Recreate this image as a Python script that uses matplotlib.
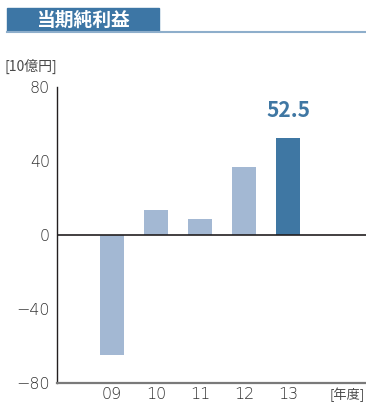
import matplotlib
matplotlib.use('Agg')
import matplotlib.pyplot as plt
from matplotlib.patches import Rectangle
from matplotlib.lines import Line2D

plt.rcParams['font.family'] = ['Noto Sans CJK JP', 'DejaVu Sans']

# data
years = ['09', '10', '11', '12', '13']
net_income = [-65.0, 13.5, 8.7, 36.8, 52.5]
bar_colors = ['#a3b8d3', '#a3b8d3', '#a3b8d3', '#a3b8d3', '#3f77a3']
yticks = [-80, -40, 0, 40, 80]
ytick_labels = ['−80', '−40', '0', '40', '80']

W, H = 366, 405
fig = plt.figure(figsize=(W / 100, H / 100), dpi=100)

# title bar
fig.patches.append(Rectangle((7 / W, 1 - 31 / H), 152 / W, 23 / H,
                             transform=fig.transFigure, color='#3d76a5', zorder=1))
fig.lines.append(Line2D([7 / W, 1], [1 - 31.5 / H, 1 - 31.5 / H],
                        transform=fig.transFigure, color='#8eaecb', lw=1.5))
fig.text(83 / W, 1 - 20 / H, '当期純利益', color='white', fontsize=13.5,
         fontweight='bold', ha='center', va='center')

ax = fig.add_axes([57 / W, 1 - 383 / H, 1 - 57 / W, (383 - 87) / H])
x = list(range(len(years)))
ax.bar(x, net_income, width=0.545, color=bar_colors, zorder=2)
ax.axhline(0, color='#231f20', lw=1.2, zorder=3)

ax.set_ylim(-80, 80)
ax.set_xlim(-1.25, 5.77)
ax.set_yticks(yticks)
ax.set_yticklabels(ytick_labels)
ax.set_xticks(x)
ax.set_xticklabels(years)
ax.tick_params(length=0, labelsize=11.5, labelcolor='#333333')
ax.tick_params(axis='y', pad=5)
ax.tick_params(axis='x', pad=3)
for lbl in ax.get_xticklabels() + ax.get_yticklabels():
    lbl.set_family('DejaVu Sans')
    lbl.set_fontweight('light')

for side in ['top', 'right']:
    ax.spines[side].set_visible(False)
ax.spines['left'].set_color('#231f20')
ax.spines['left'].set_linewidth(1.0)
ax.spines['bottom'].set_color('#7a7a7a')
ax.spines['bottom'].set_linewidth(1.6)

# highlight last value
ax.annotate(f'{net_income[-1]}', xy=(x[-1], net_income[-1]), xytext=(0, 15),
            textcoords='offset points', ha='center', va='baseline',
            fontsize=15, fontweight='bold', color='#3f77a3')

fig.text(5 / W, 1 - 66 / H, '[10億円]', fontsize=10, color='#4a4a4a',
         ha='left', va='center')
fig.text(1 - 1 / W, 1 - 395 / H, '[年度]', fontsize=9.5, color='#4a4a4a',
         ha='right', va='center')

fig.savefig('out.png', dpi=100)
